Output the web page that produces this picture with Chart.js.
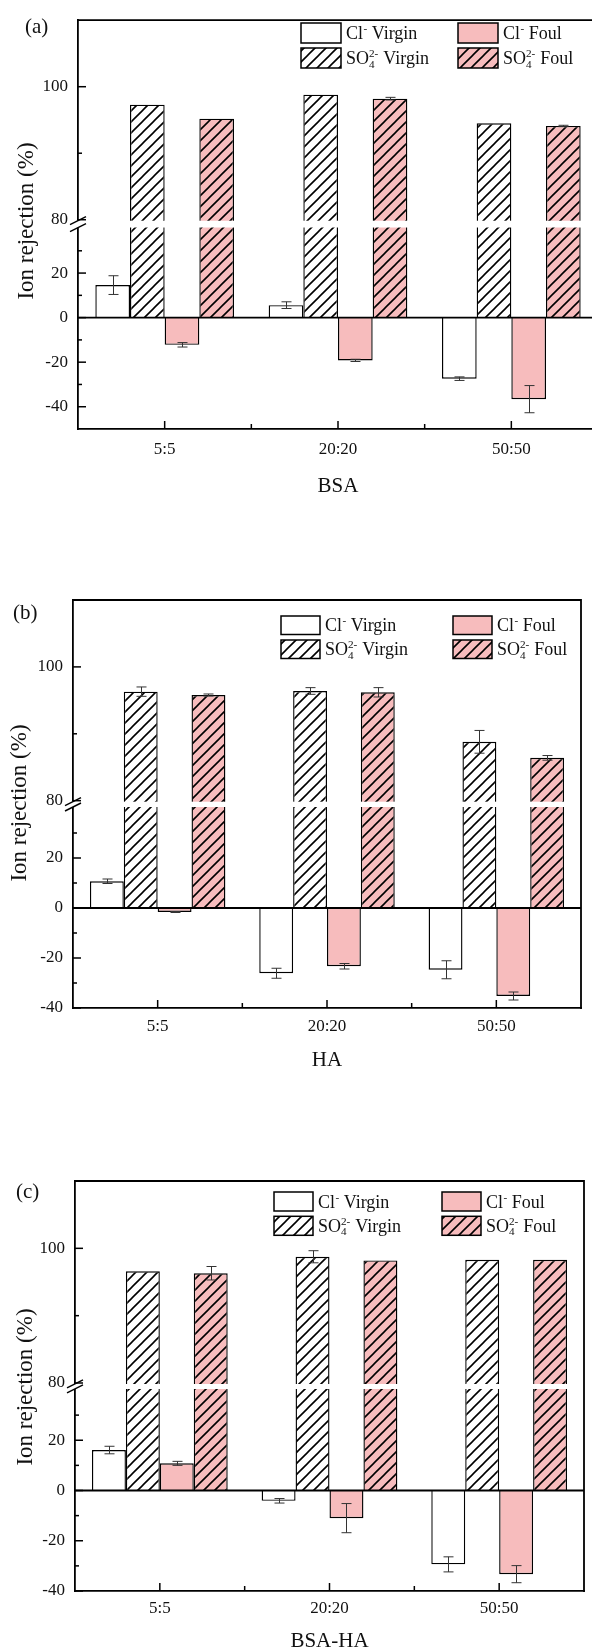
<!DOCTYPE html>
<html><head><meta charset="utf-8">
<script src="https://cdn.jsdelivr.net/npm/chart.js@4.4.1/dist/chart.umd.min.js"></script>
<style>
html,body{margin:0;padding:0;background:#fff;overflow:hidden;width:592px;height:1650px;position:relative;}
canvas{position:absolute;left:0;}
</style></head><body>
<canvas id="ca" width="620" height="540" style="top:0px"></canvas>
<canvas id="cb" width="592" height="560" style="top:540px"></canvas>
<canvas id="cc" width="592" height="560" style="top:1100px"></canvas>
<script>
// ---------------- DATA ----------------
const categories = ['5:5', '20:20', '50:50'];
const foulantTitles = ['BSA', 'HA', 'BSA-HA'];
const panelLabels = ['(a)', '(b)', '(c)'];
const yTitle = 'Ion rejection (%)';
// legend labels: [text, mode, extra]  mode: '' normal, 'sup', 'subsup'
const legendClVirgin = [['Cl', ''], ['-', 'sup'], [' Virgin', '']];
const legendSO4Virgin = [['SO', ''], ['4', 'subsup', '2-'], [' Virgin', '']];
const legendClFoul = [['Cl', ''], ['-', 'sup'], [' Foul', '']];
const legendSO4Foul = [['SO', ''], ['4', 'subsup', '2-'], [' Foul', '']];

// (a) BSA
const bsaClVirgin = [14.6, 5.6, -27.4];
const bsaClVirginErr = [4.2, 1.5, 0.8];
const bsaSO4Virgin = [97.3, 98.8, 94.5];
const bsaSO4VirginErr = [0, 0, 0];
const bsaClFoul = [-12.2, -19.2, -36.6];
const bsaClFoulErr = [1.0, 0.5, 6.1];
const bsaSO4Foul = [95.2, 98.2, 94.1];
const bsaSO4FoulErr = [0, 0.2, 0.1];

// (b) HA
const haClVirgin = [10.7, -26.1, -24.7];
const haClVirginErr = [0.9, 2.0, 3.6];
const haSO4Virgin = [96.3, 96.4, 88.8];
const haSO4VirginErr = [0.7, 0.5, 1.7];
const haClFoul = [-1.6, -23.3, -35.2];
const haClFoulErr = [0.2, 1.1, 1.6];
const haSO4Foul = [95.8, 96.2, 86.4];
const haSO4FoulErr = [0.15, 0.7, 0.35];

// (c) BSA-HA
const mixClVirgin = [16.1, -4.1, -29.4];
const mixClVirginErr = [1.5, 0.9, 3.0];
const mixSO4Virgin = [96.6, 98.75, 98.3];
const mixSO4VirginErr = [0, 0.9, 0];
const mixClFoul = [10.8, -11.0, -33.3];
const mixClFoulErr = [0.8, 5.8, 3.4];
const mixSO4Foul = [96.3, 98.2, 98.3];
const mixSO4FoulErr = [1.0, 0, 0];

// tick values
const topTickLabels = [80, 100];
const topMinorTicks = [90];
const lowTickLabels = [-40, -20, 0, 20];
const lowMinorTicks = [-30, -10, 10, 30];
const topMax = 110;
const breakTop = 80;
const breakLow = 40;

// ---------------- LAYOUT / STYLE ----------------
const PINK = '#f7bcbd';
const FONT = "'Liberation Serif','Times New Roman',serif";
const panels = [
  {id:'ca', w:620, h:540, area:{top:11,bottom:429,left:78,right:598}, lowMin:-50, lowMax:41.98, topMin:79.34, wTop:208.5, wLow:209.5, tickPad:10, titlePad:41, labelPos:[25,27], yTitlePos:[27,221], legend:{x1:301,x2:458,y1:23,dy:25,bw:40,bh:20},
   series:[bsaClVirgin,bsaSO4Virgin,bsaClFoul,bsaSO4Foul], errs:[bsaClVirginErr,bsaSO4VirginErr,bsaClFoulErr,bsaSO4FoulErr]},
  {id:'cb', w:592, h:560, area:{top:60,bottom:468,left:73,right:581}, lowMin:-40, lowMax:41.48, topMin:79.46, wTop:204.3, wLow:203.7, tickPad:8, titlePad:27, labelPos:[13,73], yTitlePos:[20,263], legend:{x1:281,x2:453,y1:76,dy:24,bw:39,bh:18.5},
   series:[haClVirgin,haSO4Virgin,haClFoul,haSO4Foul], errs:[haClVirginErr,haSO4VirginErr,haClFoulErr,haSO4FoulErr]},
  {id:'cc', w:592, h:560, area:{top:81,bottom:491,left:75,right:584}, lowMin:-40, lowMax:41.39, topMin:79.48, wTop:205.5, wLow:204.5, tickPad:7, titlePad:6, labelPos:[16,92], yTitlePos:[26,287], legend:{x1:274,x2:442,y1:92,dy:24.3,bw:39,bh:19},
   series:[mixClVirgin,mixSO4Virgin,mixClFoul,mixSO4Foul], errs:[mixClVirginErr,mixSO4VirginErr,mixClFoulErr,mixSO4FoulErr]}
];

function hatch(bg) {
  const s = 11;
  const c = document.createElement('canvas'); c.width = s; c.height = s;
  const g = c.getContext('2d');
  g.fillStyle = bg; g.fillRect(0, 0, s, s);
  g.strokeStyle = '#000'; g.lineWidth = 1.6;
  g.beginPath();
  g.moveTo(0, s); g.lineTo(s, 0);
  g.moveTo(-2, 2); g.lineTo(2, -2);
  g.moveTo(s - 2, s + 2); g.lineTo(s + 2, s - 2);
  g.stroke();
  return g.createPattern(c, 'repeat');
}

function drawRich(ctx, parts, x, y, fs) {
  const small = fs * 0.62;
  for (const [t, mode, extra] of parts) {
    if (mode === '') {
      ctx.font = fs + 'px ' + FONT;
      ctx.fillText(t, x, y); x += ctx.measureText(t).width;
    } else if (mode === 'sup') {
      ctx.font = small + 'px ' + FONT;
      ctx.fillText(t, x + 0.5, y - fs * 0.38); x += ctx.measureText(t).width + 0.5;
    } else {
      ctx.font = small + 'px ' + FONT;
      ctx.fillText(t, x, y + fs * 0.2);
      ctx.fillText(extra, x, y - fs * 0.38);
      x += Math.max(ctx.measureText(t).width, ctx.measureText(extra).width) + 0.5;
    }
  }
}

function makePanel(p, idx) {
  const fills = ['#ffffff', hatch('#ffffff'), PINK, hatch(PINK)];
  const legends = [legendClVirgin, legendSO4Virgin, legendClFoul, legendSO4Foul];
  const datasets = [];
  p.series.forEach((vals, k) => {
    const err = p.errs[k];
    datasets.push({
      label: 'low' + k, data: vals.map(v => Math.min(v, p.lowMax)), yAxisID: 'yLow', stack: 'g' + k,
      backgroundColor: fills[k], borderColor: '#000', borderWidth: 1.4,
      errors: vals.map((v, j) => v <= p.lowMax ? err[j] : null)
    });
    datasets.push({
      label: 'top' + k, data: vals.map(v => v > p.topMin ? v : null), yAxisID: 'yTop', stack: 'g' + k,
      base: p.topMin,
      backgroundColor: fills[k], borderColor: '#000', borderWidth: 1.4,
      errors: vals.map((v, j) => v > p.topMin ? err[j] : null)
    });
  });

  const decor = {
    id: 'decor',
    afterDatasetsDraw(chart) {
      const {ctx, chartArea: a, scales} = chart;
      const yT = scales.yTop, yL = scales.yLow;
      const g1 = yT.getPixelForValue(breakTop) + 1, g2 = yL.getPixelForValue(breakLow) - 1;
      ctx.save();
      ctx.fillStyle = '#fff';
      ctx.fillRect(a.left - 3, g1, a.right - a.left + 2, g2 - g1);
      // error bars
      ctx.strokeStyle = '#333'; ctx.lineWidth = 1;
      chart.data.datasets.forEach((ds, i) => {
        const meta = chart.getDatasetMeta(i);
        const sc = scales[ds.yAxisID];
        meta.data.forEach((el, j) => {
          const v = ds.data[j], e = ds.errors[j];
          if (v == null || !e) return;
          const x = Math.round(el.x) + 0.5;
          const y1 = sc.getPixelForValue(v - e), y2 = sc.getPixelForValue(v + e);
          ctx.beginPath();
          ctx.moveTo(x, y1); ctx.lineTo(x, y2);
          ctx.moveTo(x - 5, y1); ctx.lineTo(x + 5, y1);
          ctx.moveTo(x - 5, y2); ctx.lineTo(x + 5, y2);
          ctx.stroke();
        });
      });
      ctx.restore();
    },
    afterDraw(chart) {
      const {ctx, chartArea: a, scales} = chart;
      const yT = scales.yTop, yL = scales.yLow, xs = scales.x;
      ctx.save();
      ctx.strokeStyle = '#000';
      // zero line
      ctx.lineWidth = 1.8;
      const y0 = yL.getPixelForValue(0);
      ctx.beginPath(); ctx.moveTo(a.left, y0); ctx.lineTo(a.right, y0); ctx.stroke();
      // frame top/right
      ctx.beginPath(); ctx.moveTo(a.left - 0.9, a.top); ctx.lineTo(a.right, a.top); ctx.lineTo(a.right, a.bottom + 0.9); ctx.stroke();
      // ticks
      ctx.lineWidth = 1.5;
      const L = a.left;
      const tick = (y, len) => { ctx.beginPath(); ctx.moveTo(L, y); ctx.lineTo(L + len, y); ctx.stroke(); };
      topTickLabels.forEach(v => tick(yT.getPixelForValue(v), 8));
      topMinorTicks.forEach(v => tick(yT.getPixelForValue(v), 4));
      lowTickLabels.forEach(v => tick(yL.getPixelForValue(v), 8));
      lowMinorTicks.forEach(v => tick(yL.getPixelForValue(v), 4));
      categories.forEach((c, i) => {
        const x = xs.getPixelForValue(i);
        ctx.beginPath(); ctx.moveTo(x, a.bottom); ctx.lineTo(x, a.bottom - 8); ctx.stroke();
        if (i < categories.length - 1) {
          const xm = (x + xs.getPixelForValue(i + 1)) / 2;
          ctx.beginPath(); ctx.moveTo(xm, a.bottom); ctx.lineTo(xm, a.bottom - 5); ctx.stroke();
        }
      });
      // break marks
      const g1 = yT.getPixelForValue(breakTop) + 1, g2 = yL.getPixelForValue(breakLow) - 1;
      ctx.lineWidth = 1.4;
      [g1, g2].forEach(y => { ctx.beginPath(); ctx.moveTo(L - 8, y + 4); ctx.lineTo(L + 8, y - 4); ctx.stroke(); });
      // legend
      const lg = p.legend;
      const rows = [[0, lg.x1, lg.y1], [1, lg.x1, lg.y1 + lg.dy], [2, lg.x2, lg.y1], [3, lg.x2, lg.y1 + lg.dy]];
      rows.forEach(([k, x, y]) => {
        ctx.fillStyle = fills[k];
        ctx.fillRect(x, y, lg.bw, lg.bh);
        ctx.lineWidth = 1.5; ctx.strokeStyle = '#000';
        ctx.strokeRect(x, y, lg.bw, lg.bh);
        ctx.fillStyle = '#111'; ctx.textAlign = 'left'; ctx.textBaseline = 'alphabetic';
        drawRich(ctx, legends[k], x + lg.bw + 5, y + lg.bh / 2 + 6, 18);
      });
      // panel label
      ctx.fillStyle = '#111';
      ctx.font = '21px ' + FONT; ctx.textBaseline = 'middle'; ctx.textAlign = 'left';
      ctx.fillText(panelLabels[idx], p.labelPos[0], p.labelPos[1]);
      // y title
      ctx.translate(p.yTitlePos[0], p.yTitlePos[1]);
      ctx.rotate(-Math.PI / 2);
      ctx.font = '23px ' + FONT; ctx.textAlign = 'center'; ctx.textBaseline = 'middle';
      ctx.fillText(yTitle, 0, 0);
      ctx.restore();
    }
  };

  const yCommon = {
    type: 'linear', position: 'left', stack: 'v', stacked: false,
    grid: {display: false, drawTicks: false},
    border: {display: true, color: '#000', width: 1.8},
    ticks: {font: {family: FONT, size: 17}, color: '#111', padding: 10},
    afterFit: s => { s.width = p.area.left; }
  };

  new Chart(document.getElementById(p.id), {
    type: 'bar',
    data: {labels: categories, datasets},
    options: {
      responsive: false, animation: false, devicePixelRatio: 1,
      layout: {padding: {top: p.area.top, right: p.w - p.area.right, left: 0, bottom: 0}},
      datasets: {bar: {barPercentage: 1.0, categoryPercentage: 0.8}},
      plugins: {legend: {display: false}, tooltip: {enabled: false}, title: {display: false}},
      scales: {
        x: {
          type: 'category', offset: true,
          grid: {display: false, drawTicks: false},
          border: {display: true, color: '#000', width: 1.8},
          ticks: {font: {family: FONT, size: 17}, color: '#111', padding: p.tickPad, autoSkip: false, maxRotation: 0},
          title: {display: true, text: foulantTitles[idx], font: {family: FONT, size: 21}, color: '#111', padding: {top: 0, bottom: p.titlePad}},
          afterFit: s => { s.height = p.h - p.area.bottom; }
        },
        yLow: Object.assign({}, yCommon, {
          min: p.lowMin, max: p.lowMax, stackWeight: p.wLow,
          afterBuildTicks: s => { s.ticks = lowTickLabels.map(v => ({value: v})); }
        }),
        yTop: Object.assign({}, yCommon, {
          min: p.topMin, max: topMax, stackWeight: p.wTop,
          afterBuildTicks: s => { s.ticks = topTickLabels.map(v => ({value: v})); }
        })
      }
    },
    plugins: [decor]
  });
}

panels.forEach((p, i) => makePanel(p, i));
</script>
</body></html>
